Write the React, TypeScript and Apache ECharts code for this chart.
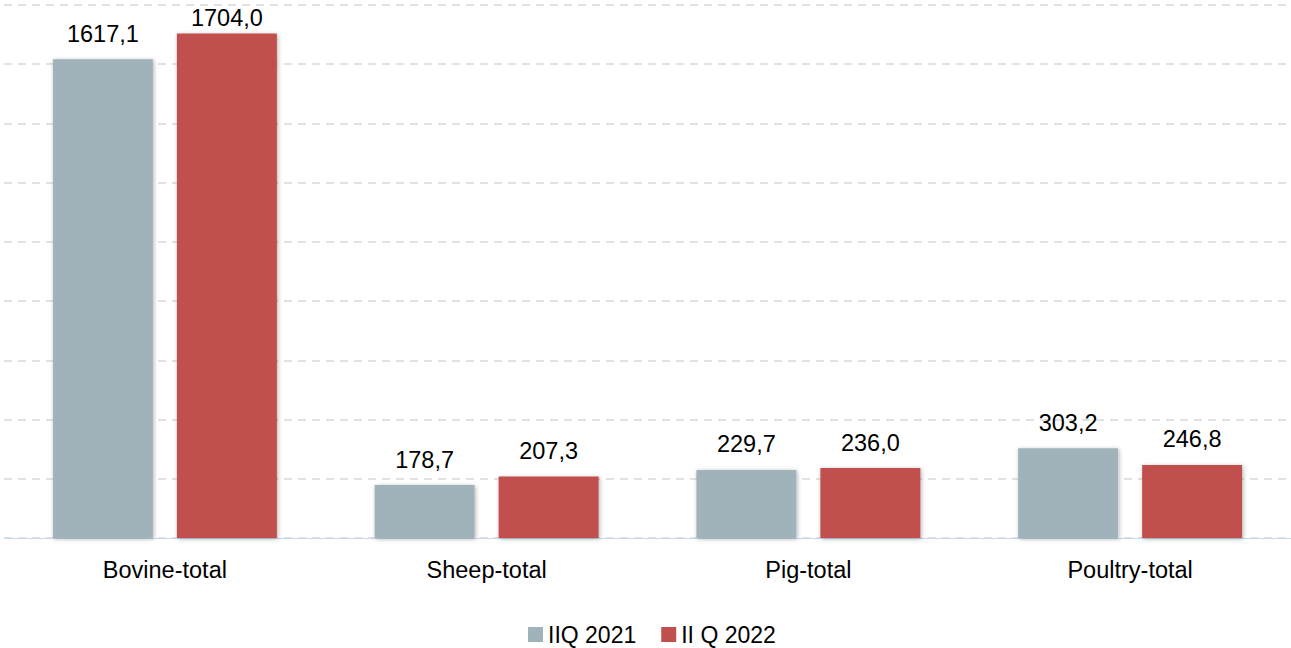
import React, { useEffect, useRef } from "react";
import * as echarts from "echarts";

const categories = ["Bovine-total", "Sheep-total", "Pig-total", "Poultry-total"];
const series2021 = [1617.1, 178.7, 229.7, 303.2];
const series2022 = [1704.0, 207.3, 236.0, 246.8];
const seriesNames = ["IIQ 2021", "II Q 2022"];

const fmt = (v: number) => v.toFixed(1).replace(".", ",");

export default function App() {
  const ref = useRef<HTMLDivElement>(null);
  useEffect(() => {
    if (!ref.current) return;
    const chart = echarts.init(ref.current, undefined, { renderer: "svg" });
    const font = "Liberation Sans, Arial, sans-serif";
    const barStyle = (color: string) => ({
      color,
      shadowBlur: 4,
      shadowOffsetX: 1,
      shadowOffsetY: 1,
      shadowColor: "rgba(0,0,0,0.3)",
    });
    const label = {
      show: true,
      position: "top",
      distance: 13.5,
      fontSize: 23.5,
      color: "#000",
      fontFamily: font,
      formatter: (p: any) => fmt(p.value),
    };
    // the tallest label is pushed down towards its bar so it stays inside the chart
    const maxVal = Math.max(...series2022, ...series2021);
    const withFit = (arr: number[]) =>
      arr.map((v) => (v === maxVal ? { value: v, label: { distance: 3.5 } } : v));
    chart.setOption({
      animation: false,
      textStyle: { fontFamily: font },
      grid: { left: 4, right: -1, top: 5, bottom: 110, containLabel: false },
      legend: {
        bottom: 2,
        left: 528,
        padding: 0,
        itemWidth: 15,
        itemHeight: 15,
        itemGap: 25,
        icon: "rect",
        textStyle: { fontSize: 23, color: "#000", fontFamily: font },
        data: seriesNames,
      },
      xAxis: {
        type: "category",
        data: categories,
        axisLine: { lineStyle: { color: "#c6d9f1", width: 1 } },
        axisTick: { show: false },
        axisLabel: { fontSize: 23.5, color: "#000", margin: 20, fontFamily: font },
      },
      yAxis: {
        type: "value",
        min: 0,
        max: 1800,
        interval: 200,
        axisLabel: { show: false },
        axisLine: { show: false },
        axisTick: { show: false },
        splitLine: { lineStyle: { color: "#d9d9d9", type: [8, 6], width: 1.5 } },
      },
      series: [
        {
          name: seriesNames[0],
          type: "bar",
          data: withFit(series2021),
          barWidth: 100,
          barGap: "24%",
          itemStyle: barStyle("#a0b3ba"),
          label,
        },
        {
          name: seriesNames[1],
          type: "bar",
          data: withFit(series2022),
          barWidth: 100,
          barGap: "24%",
          itemStyle: barStyle("#c0504d"),
          label,
        },
      ],
    });
    return () => chart.dispose();
  }, []);
  return (
    <div
      ref={ref}
      style={{ position: "absolute", left: 0, top: 0, width: 1291, height: 648, background: "#fff" }}
    />
  );
}
